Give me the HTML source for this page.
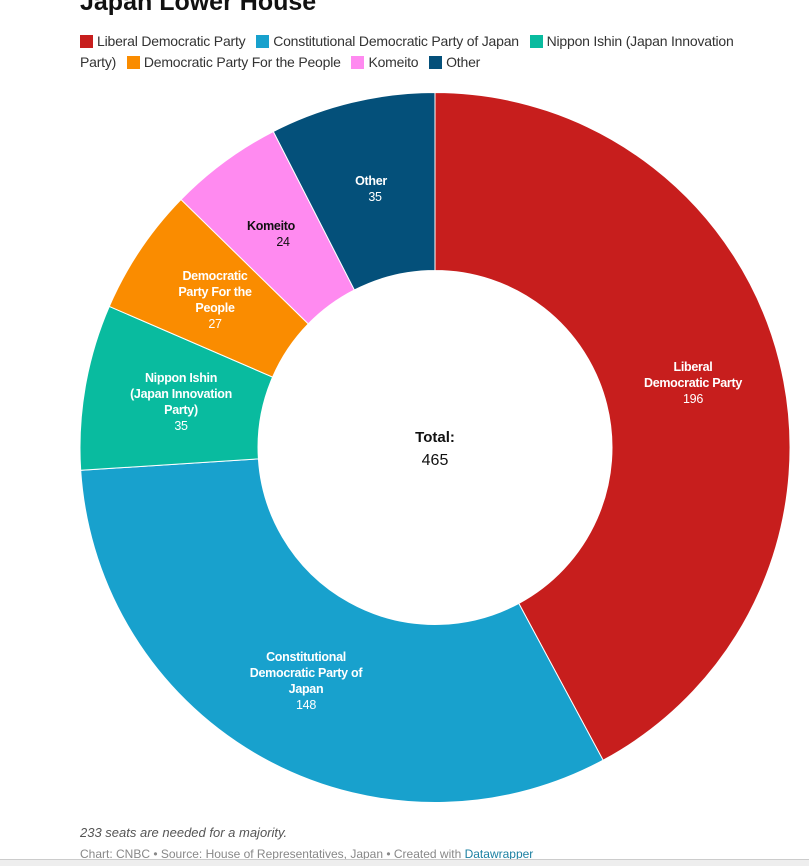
<!DOCTYPE html>
<html><head><meta charset="utf-8"><style>
body{margin:0;width:809px;height:865px;background:#fff;font-family:"Liberation Sans",sans-serif;position:relative;overflow:hidden}
.t{position:absolute;left:80px;top:-12px;font-size:25px;font-weight:bold;color:#111}
.lg{position:absolute;left:80px;top:31px;width:700px;font-size:14px;letter-spacing:-0.2px;color:#333;line-height:21px}
.lg span{display:inline-block;width:13px;height:13px;vertical-align:-2px;margin-right:4px}
.lg i{font-style:normal;margin-right:7px}
.n{position:absolute;left:80px;top:825px;font-size:13px;font-style:italic;color:#555}
.s{position:absolute;left:80px;top:847px;font-size:12px;color:#888}
.s b{font-weight:normal;color:#1d81a2}
.bar{position:absolute;left:0;top:859px;width:809px;height:6px;background:#eee;border-top:1px solid #ccc}
</style></head><body>
<div class="t">Japan Lower House</div>
<div class="lg"><i><span style="background:#c71e1d"></span>Liberal Democratic Party</i> <i><span style="background:#18a1cd"></span>Constitutional Democratic Party of Japan</i> <i><span style="background:#09bb9f"></span>Nippon Ishin (Japan Innovation Party)</i> <i><span style="background:#fa8c00"></span>Democratic Party For the People</i> <i><span style="background:#ff8af0"></span>Komeito</i> <i><span style="background:#04507a"></span>Other</i></div>
<svg width="809" height="865" style="position:absolute;left:0;top:0" font-family="Liberation Sans, sans-serif">
<g stroke="#fff" stroke-width="1">
<path fill="#c71e1d" d="M435,92.5 A355,355 0 0 1 603.1,760.2 L518.8,603.4 A177,177 0 0 0 435,270.5Z"/>
<path fill="#18a1cd" d="M603.1,760.2 A355,355 0 0 1 80.7,470.3 L258.4,458.9 A177,177 0 0 0 518.8,603.4Z"/>
<path fill="#09bb9f" d="M80.7,470.3 A355,355 0 0 1 109.3,306.4 L272.6,377.1 A177,177 0 0 0 258.4,458.9Z"/>
<path fill="#fa8c00" d="M109.3,306.4 A355,355 0 0 1 181,199.5 L308.3,323.9 A177,177 0 0 0 272.6,377.1Z"/>
<path fill="#ff8af0" d="M181,199.5 A355,355 0 0 1 273.3,131.5 L354.4,290 A177,177 0 0 0 308.3,323.9Z"/>
<path fill="#04507a" d="M273.3,131.5 A355,355 0 0 1 435,92.5 L435,270.5 A177,177 0 0 0 354.4,290Z"/>
</g>
<g font-size="12.5" text-anchor="middle" fill="#fff" letter-spacing="-0.3">
<text x="693" y="371" font-weight="bold">Liberal</text><text x="693" y="387" font-weight="bold">Democratic Party</text><text x="693" y="403">196</text>
<text x="306" y="661" font-weight="bold">Constitutional</text><text x="306" y="677" font-weight="bold">Democratic Party of</text><text x="306" y="693" font-weight="bold">Japan</text><text x="306" y="709">148</text>
<text x="181" y="382" font-weight="bold">Nippon Ishin</text><text x="181" y="398" font-weight="bold">(Japan Innovation</text><text x="181" y="414" font-weight="bold">Party)</text><text x="181" y="430">35</text>
<text x="215" y="280" font-weight="bold">Democratic</text><text x="215" y="296" font-weight="bold">Party For the</text><text x="215" y="312" font-weight="bold">People</text><text x="215" y="328">27</text>
<text x="271" y="230" font-weight="bold" fill="#111">Komeito</text><text x="283" y="246" fill="#111">24</text>
<text x="371" y="185" font-weight="bold">Other</text><text x="375" y="201">35</text>
</g>
<text x="435" y="442" text-anchor="middle" font-size="15" font-weight="bold" fill="#111">Total:</text>
<text x="435" y="465" text-anchor="middle" font-size="16" fill="#111">465</text>
</svg>
<div class="n">233 seats are needed for a majority.</div>
<div class="s">Chart: CNBC • Source: House of Representatives, Japan • Created with <b>Datawrapper</b></div>
<div class="bar"></div>
</body></html>
